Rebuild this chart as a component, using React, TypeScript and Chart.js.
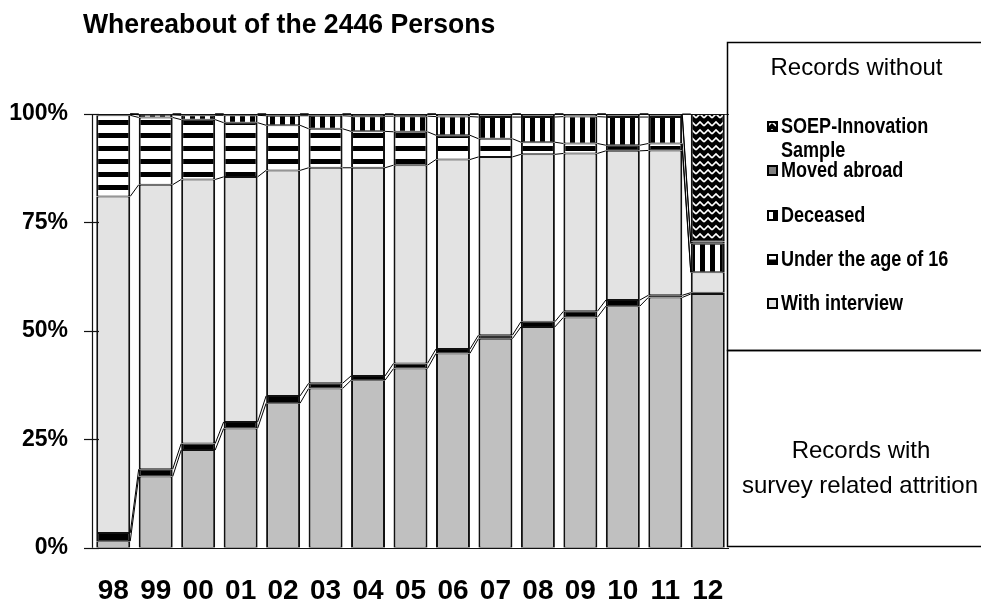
import React, { useEffect, useRef } from 'react';
import { Chart, registerables } from 'chart.js';

Chart.register(...registerables);

// ---------------- data ----------------
const years = ['98', '99', '00', '01', '02', '03', '04', '05', '06', '07', '08', '09', '10', '11', '12'];
const surveyAttrition = [1.5, 16.4, 22.5, 27.5, 33.3, 36.7, 38.6, 41.3, 44.8, 48.2, 50.9, 53.1, 55.7, 57.7, 58.5];
const attritionBand = [1.9, 1.7, 1.5, 1.5, 1.7, 1.2, 1.0, 1.2, 1.0, 0.8, 1.2, 1.4, 1.4, 0.5, 0.3];
const withInterview = [77.6, 65.6, 60.9, 56.5, 52.0, 49.7, 48.0, 45.7, 43.7, 41.1, 38.6, 36.4, 34.4, 33.4, 4.7];
const underAge16 = [18.7, 15.5, 13.8, 12.5, 10.4, 9.0, 8.4, 7.7, 5.6, 4.2, 2.8, 2.3, 1.3, 1.6, 0];
const deceased = [0.3, 0.6, 1.0, 1.7, 2.2, 3.0, 3.5, 3.6, 4.3, 5.0, 5.8, 6.2, 6.5, 6.1, 6.6];
const movedAbroad = [0, 0.2, 0.3, 0.3, 0.4, 0.4, 0.5, 0.5, 0.6, 0.7, 0.7, 0.6, 0.7, 0.7, 0.5];
const soepInnovation = [0, 0, 0, 0, 0, 0, 0, 0, 0, 0, 0, 0, 0, 0, 29.4];
const yTickValues = [0, 25, 50, 75, 100];

const titleText = 'Whereabout of the 2446 Persons';
const boxTopTitle = 'Records without';
const boxBottomLines = ['Records with', 'survey related attrition'];
const legendLabels = [['SOEP-Innovation', 'Sample'], ['Moved abroad'], ['Deceased'], ['Under the age of 16'], ['With interview']];

// ---------------- helpers ----------------
function fontAvailable(name: string) {
  const c = document.createElement('canvas').getContext('2d');
  if (!c) return false;
  const s = 'mmmmmmmmmmlli1234567890WWabc';
  c.font = '40px monospace';
  const a = c.measureText(s).width;
  c.font = `40px '${name}', monospace`;
  const b = c.measureText(s).width;
  return Math.abs(a - b) > 0.5;
}

function makePattern(w: number, h: number, draw: (g: CanvasRenderingContext2D) => void) {
  const c = document.createElement('canvas');
  c.width = w;
  c.height = h;
  const g = c.getContext('2d')!;
  draw(g);
  return g.createPattern(c, 'repeat')!;
}

function drawText(ctx: CanvasRenderingContext2D, text: string, x: number, y: number, font: string, sx: number, align: CanvasTextAlign) {
  ctx.save();
  ctx.font = font;
  ctx.fillStyle = '#000';
  ctx.textBaseline = 'alphabetic';
  ctx.textAlign = align;
  ctx.translate(x, y);
  ctx.scale(sx, 1);
  ctx.fillText(text, 0, 0);
  ctx.restore();
}

export default function App() {
  const ref = useRef<HTMLCanvasElement | null>(null);

  useEffect(() => {
    const canvas = ref.current;
    if (!canvas) return;

    const narrow = fontAvailable('Liberation Sans Narrow');
    const tickFamily = narrow ? "'Liberation Sans Narrow', 'Liberation Sans', Arial, sans-serif" : "'Liberation Sans', Arial, sans-serif";
    const ySize = narrow ? 28 : 23;
    const xSize = narrow ? 34 : 28;
    const plotBottom = 547.7;
    const xPad = 591.5 - plotBottom - xSize / 2;

    const hPat = makePattern(13, 13, (g) => {
      g.fillStyle = '#fff';
      g.fillRect(0, 0, 13, 13);
      g.fillStyle = '#000';
      g.fillRect(0, 3, 13, 5);
    });
    const vPat = makePattern(10, 10, (g) => {
      g.fillStyle = '#fff';
      g.fillRect(0, 0, 10, 10);
      g.fillStyle = '#000';
      g.fillRect(0, 0, 5, 10);
    });
    const zPat = makePattern(8, 8, (g) => {
      g.fillStyle = '#000';
      g.fillRect(0, 0, 8, 8);
      g.strokeStyle = '#fff';
      g.lineWidth = 1.6;
      g.beginPath();
      g.moveTo(0, 6);
      g.lineTo(4, 2);
      g.lineTo(8, 6);
      g.stroke();
    });

    const common = {
      borderColor: '#111',
      borderWidth: { top: 1, bottom: 1, left: 2, right: 2 },
      borderSkipped: false,
      barPercentage: 0.8,
      categoryPercentage: 1,
    };

    const line = (ctx: CanvasRenderingContext2D, x1: number, y1: number, x2: number, y2: number) => {
      ctx.beginPath();
      ctx.moveTo(x1, y1);
      ctx.lineTo(x2, y2);
      ctx.stroke();
    };

    const decor = {
      id: 'decor',
      beforeDatasetsDraw(chart: any) {
        const { ctx, chartArea: a, scales } = chart;
        const y = scales.y;
        ctx.save();
        ctx.strokeStyle = '#333';
        ctx.lineWidth = 1;
        const yt = Math.round(y.getPixelForValue(100)) + 0.5;
        line(ctx, a.left - 8, yt, a.right, yt);
        ctx.restore();
      },
      afterDatasetsDraw(chart: any) {
        const { ctx, chartArea: a, scales } = chart;
        const y = scales.y;
        ctx.save();
        // series lines
        ctx.strokeStyle = '#000';
        ctx.lineWidth = 1;
        const n = chart.data.datasets.length;
        for (let d = 0; d < n; d++) {
          const meta = chart.getDatasetMeta(d);
          for (let i = 0; i < meta.data.length - 1; i++) {
            const e1 = meta.data[i].getProps(['x', 'y', 'width'], true);
            const e2 = meta.data[i + 1].getProps(['x', 'y', 'width'], true);
            line(ctx, e1.x + e1.width / 2, e1.y, e2.x - e2.width / 2, e2.y);
          }
        }
        // axes
        ctx.strokeStyle = '#111';
        ctx.lineWidth = 1.2;
        const ax = Math.round(a.left) + 0.5;
        line(ctx, ax, y.getPixelForValue(100), ax, y.getPixelForValue(0));
        const yb = Math.round(y.getPixelForValue(0)) + 0.5;
        line(ctx, a.left - 8, yb, a.right, yb);
        for (const v of yTickValues) {
          const py = Math.round(y.getPixelForValue(v)) + 0.5;
          line(ctx, a.left - 8, py, a.left + 7, py);
        }
        ctx.restore();
      },
      afterDraw(chart: any) {
        const { ctx } = chart;
        ctx.save();
        // title
        drawText(ctx, titleText, 83, 33, "bold 28px 'Liberation Sans', Arial, sans-serif", 0.95, 'left');
        // boxes
        ctx.strokeStyle = '#000';
        ctx.lineWidth = 1.5;
        ctx.strokeRect(727.5, 42.5, 300, 308);
        ctx.strokeRect(727.5, 350.5, 300, 196);
        drawText(ctx, boxTopTitle, 856.5, 75, "24px 'Liberation Sans', Arial, sans-serif", 1, 'center');
        drawText(ctx, boxBottomLines[0], 861, 458, "24px 'Liberation Sans', Arial, sans-serif", 1, 'center');
        drawText(ctx, boxBottomLines[1], 860, 493, "24px 'Liberation Sans', Arial, sans-serif", 1, 'center');
        // legend
        const baselines = [[133, 157], [177], [222], [266], [310]];
        const lf = "bold 22px 'Liberation Sans', Arial, sans-serif";
        const sx = 767, ss = 11;
        legendLabels.forEach((lines, k) => {
          const b0 = baselines[k][0];
          const sy = b0 - 12;
          ctx.save();
          ctx.lineWidth = 2;
          ctx.strokeStyle = '#000';
          if (k === 0) {
            ctx.fillStyle = zPat;
            ctx.fillRect(sx, sy, ss, ss);
          } else if (k === 1) {
            ctx.fillStyle = '#808080';
            ctx.fillRect(sx, sy, ss, ss);
          } else if (k === 2) {
            ctx.fillStyle = '#fff';
            ctx.fillRect(sx, sy, ss, ss);
            ctx.fillStyle = '#000';
            ctx.fillRect(sx + 6, sy, 3, ss);
          } else if (k === 3) {
            ctx.fillStyle = '#fff';
            ctx.fillRect(sx, sy, ss, ss);
            ctx.fillStyle = '#000';
            ctx.fillRect(sx, sy + ss / 2, ss, ss / 2);
          } else {
            ctx.fillStyle = '#e3e3e3';
            ctx.fillRect(sx, sy, ss, ss);
          }
          ctx.strokeRect(sx + 1, sy + 1, ss - 2, ss - 2);
          ctx.restore();
          lines.forEach((t, j) => drawText(ctx, t, 781, baselines[k][j], lf, 0.82, 'left'));
        });
        ctx.restore();
      },
    };

    const chart = new Chart(canvas, {
      type: 'bar',
      data: {
        labels: years,
        datasets: [
          { label: 'Survey related attrition', data: surveyAttrition, backgroundColor: '#c0c0c0', ...common },
          { label: 'Survey related attrition (band)', data: attritionBand, backgroundColor: '#000', ...common },
          { label: 'With interview', data: withInterview, backgroundColor: '#e3e3e3', ...common },
          { label: 'Under the age of 16', data: underAge16, backgroundColor: hPat, ...common },
          { label: 'Deceased', data: deceased, backgroundColor: vPat, ...common },
          { label: 'Moved abroad', data: movedAbroad, backgroundColor: '#808080', ...common },
          { label: 'SOEP-Innovation Sample', data: soepInnovation, backgroundColor: zPat, ...common },
        ] as any,
      },
      options: {
        responsive: false,
        animation: false,
        devicePixelRatio: 1,
        layout: { padding: { left: 0, top: 114, right: 252, bottom: 0 } },
        plugins: { legend: { display: false }, tooltip: { enabled: false }, title: { display: false } },
        scales: {
          x: {
            stacked: true,
            offset: true,
            grid: { display: false, drawTicks: false },
            border: { display: false },
            ticks: {
              color: '#000',
              padding: xPad,
              maxRotation: 0,
              autoSkip: false,
              font: { family: tickFamily, size: xSize, weight: 'bold', lineHeight: 1 },
            },
            afterFit: (s: any) => {
              s.height = 607 - plotBottom;
            },
          },
          y: {
            stacked: true,
            min: 0,
            max: 100,
            grid: { display: false, drawTicks: false },
            border: { display: false },
            ticks: {
              stepSize: 25,
              color: '#000',
              padding: 24,
              callback: (v: any) => v + '%',
              font: { family: tickFamily, size: ySize, weight: 'bold', lineHeight: 1 },
            },
            afterFit: (s: any) => {
              s.width = 92;
            },
          },
        },
      } as any,
      plugins: [decor],
    });

    return () => chart.destroy();
  }, []);

  return (
    <div style={{ position: 'absolute', left: 0, top: 0, width: 981, height: 607, background: '#fff' }}>
      <canvas ref={ref} width={981} height={607} style={{ display: 'block', width: 981, height: 607 }} />
    </div>
  );
}
